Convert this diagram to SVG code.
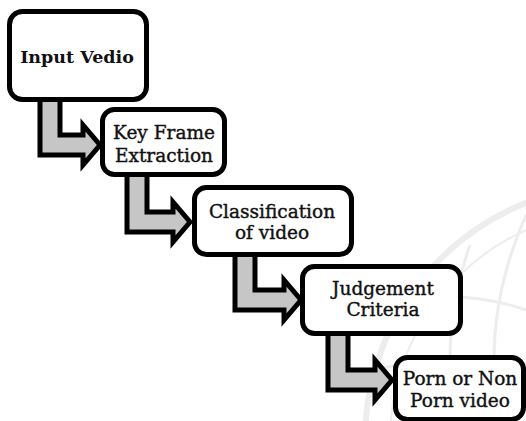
<svg xmlns="http://www.w3.org/2000/svg" width="526" height="421" viewBox="0 0 526 421">
<style>
.box{fill:#fff;stroke:#000;stroke-width:5;}
.arr{fill:#c6c6c6;stroke:#000;stroke-width:5;stroke-linejoin:miter;}
.t{font-family:"DejaVu Serif","Liberation Serif",serif;font-size:18.5px;fill:#111;stroke:#111;stroke-width:0.4;text-anchor:middle;}
.b{font-weight:bold;font-size:17.5px;stroke-width:0;}
.wm{fill:none;stroke:#ededed;}
</style>
<rect width="526" height="421" fill="#fff"/>
<g id="watermark">
<circle class="wm" cx="620" cy="440" r="255" stroke-width="6"/>
<circle class="wm" cx="620" cy="440" r="230" stroke-width="2"/>
<path class="wm" d="M470,245 Q440,330 455,421" stroke-width="3"/>
<path class="wm" d="M526,215 Q480,320 500,421" stroke-width="3"/>
<path class="wm" d="M400,300 Q470,290 526,310" stroke-width="3"/>
<path class="wm" d="M375,370 Q450,350 526,365" stroke-width="3"/>
</g>
<g id="connectors">
<path class="arr" d="M40,98 L60,98 L60,135 L83,135 L83,125 L100,145 L83,165 L83,155 L40,155 Z"/>
<path class="arr" d="M127,174 L147,174 L147,212 L173,212 L173,202 L190,222 L173,242 L173,232 L127,232 Z"/>
<path class="arr" d="M235,253 L255,253 L255,290 L284,290 L284,280 L301,300 L284,320 L284,310 L235,310 Z"/>
<path class="arr" d="M328,333 L348,333 L348,370 L375,370 L375,360 L392,380 L375,400 L375,390 L328,390 Z"/>
</g>
<g id="node1">
<rect class="box" x="9.5" y="11.5" width="137" height="88" rx="13"/>
<text class="t b" x="77" y="63">Input Vedio</text>
</g>
<g id="node2">
<rect class="box" x="102.5" y="109.5" width="122" height="65" rx="12"/>
<text class="t" x="164" y="139">Key Frame</text>
<text class="t" x="164" y="162">Extraction</text>
</g>
<g id="node3">
<rect class="box" x="194.5" y="187.5" width="157" height="67" rx="12"/>
<text class="t" x="272" y="218">Classification</text>
<text class="t" x="272" y="239">of video</text>
</g>
<g id="node4">
<rect class="box" x="302.5" y="266.5" width="158" height="67" rx="12"/>
<text class="t" x="383" y="295">Judgement</text>
<text class="t" x="383" y="316">Criteria</text>
</g>
<g id="node5">
<rect class="box" x="395.5" y="357.5" width="128" height="62" rx="12"/>
<text class="t" x="460" y="385">Porn or Non</text>
<text class="t" x="460" y="407">Porn video</text>
</g>
</svg>
